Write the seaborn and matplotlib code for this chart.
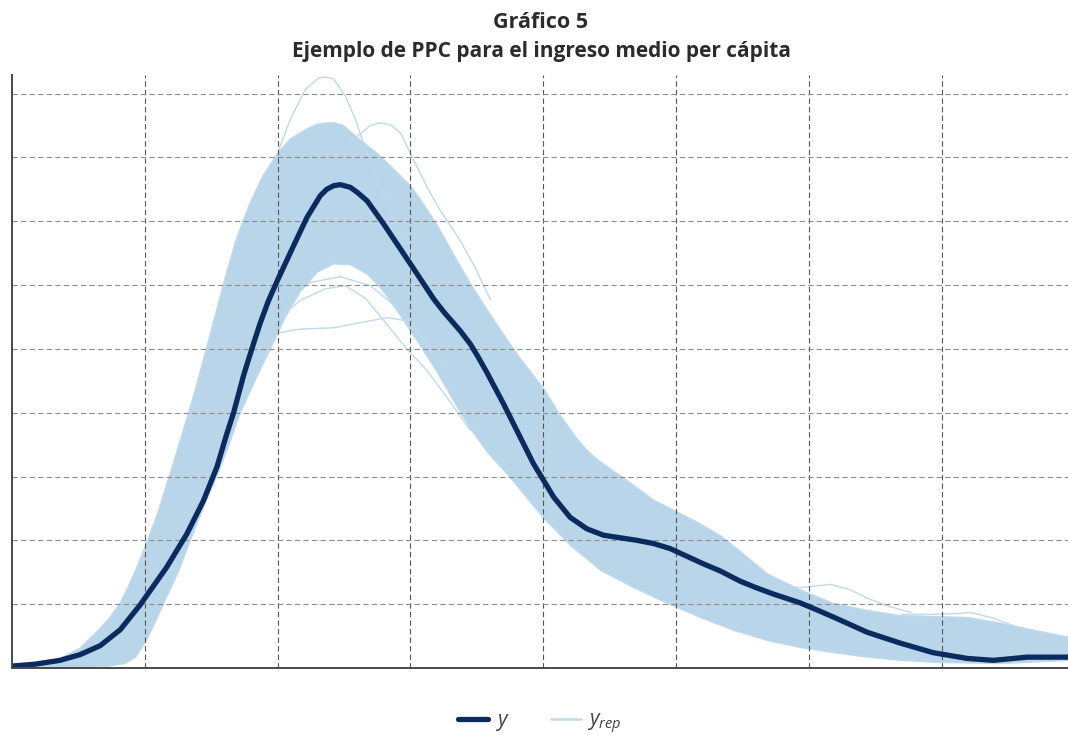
import matplotlib
matplotlib.use("Agg")
import matplotlib.pyplot as plt
import seaborn as sns
from matplotlib.lines import Line2D

# ---------------- data ----------------
title_1 = "Gráfico 5"
title_2 = "Ejemplo de PPC para el ingreso medio per cápita"
legend_labels = ["$y$", "$y_{rep}$"]

# observed density y
y_x = [0.0, 0.174, 0.362, 0.513, 0.664, 0.815, 0.965, 1.165, 1.316, 1.441,
       1.542, 1.617, 1.668, 1.743, 1.768, 1.818, 1.868, 1.930, 2.0, 2.121,
       2.221, 2.321, 2.370, 2.422, 2.472, 2.547, 2.600, 2.673, 2.798, 2.924,
       3.050, 3.175, 3.250, 3.300, 3.375, 3.449, 3.510, 3.575, 3.700, 3.826,
       3.926, 3.996, 4.077, 4.202, 4.328, 4.453, 4.579, 4.705, 4.830, 4.956,
       5.081, 5.207, 5.332, 5.482, 5.600, 5.730, 5.934, 6.060, 6.182, 6.438,
       6.687, 6.935, 7.191, 7.387, 7.643, 7.952]
y_vals = [0.03, 0.06, 0.12, 0.21, 0.35, 0.60, 0.99, 1.58, 2.10, 2.62,
          3.145, 3.668, 3.997, 4.58, 4.75, 5.08, 5.40, 5.75, 6.08, 6.62,
          7.06, 7.40, 7.50, 7.556, 7.572, 7.53, 7.45, 7.32, 6.956, 6.565,
          6.173, 5.78, 5.58, 5.46, 5.28, 5.08, 4.87, 4.63, 4.14, 3.615,
          3.20, 2.96, 2.68, 2.36, 2.18, 2.08, 2.04, 2.00, 1.95, 1.87,
          1.75, 1.63, 1.52, 1.36, 1.26, 1.16, 1.02, 0.91, 0.80, 0.56,
          0.39, 0.24, 0.15, 0.12, 0.17, 0.17]

# replicated densities y_rep: outer edges of the bundle
rep_up_x = [0.0, 0.212, 0.362, 0.513, 0.664, 0.740, 0.815, 0.870, 0.928, 1.003,
            1.093, 1.176, 1.266, 1.357, 1.440, 1.523, 1.606, 1.689, 1.795, 1.892,
            1.998, 2.096, 2.224, 2.300, 2.374, 2.430, 2.495, 2.623, 2.751, 2.872,
            3.000, 3.075, 3.203, 3.324, 3.452, 3.580, 3.731, 3.826, 3.998, 4.130,
            4.250, 4.334, 4.410, 4.484, 4.635, 4.831, 4.981, 5.163, 5.336, 5.487,
            5.690, 5.939, 6.188, 6.444, 6.693, 7.197, 7.446, 7.695, 7.958]
rep_up_y = [0.01, 0.06, 0.15, 0.31, 0.62, 0.80, 1.02, 1.25, 1.52, 1.90,
            2.40, 2.95, 3.56, 4.19, 4.82, 5.47, 6.12, 6.72, 7.30, 7.72,
            8.06, 8.29, 8.45, 8.52, 8.54, 8.54, 8.50, 8.27, 8.06, 7.82,
            7.55, 7.34, 6.93, 6.48, 6.02, 5.60, 5.13, 4.85, 4.39, 3.95,
            3.60, 3.40, 3.26, 3.15, 2.93, 2.63, 2.47, 2.28, 2.07, 1.82,
            1.47, 1.22, 1.01, 0.90, 0.82, 0.79, 0.70, 0.59, 0.48]

rep_lo_x = [0.0, 0.362, 0.664, 0.852, 0.930, 1.003, 1.070, 1.139, 1.251, 1.342,
            1.440, 1.546, 1.629, 1.719, 1.847, 1.968, 2.058, 2.171, 2.299, 2.420,
            2.547, 2.676, 2.797, 2.925, 3.075, 3.203, 3.324, 3.452, 3.580, 3.753,
            3.998, 4.205, 4.432, 4.680, 4.937, 5.185, 5.434, 5.690, 5.939, 6.188,
            6.444, 6.693, 6.941, 7.446, 7.958]
rep_lo_y = [0.0, 0.0, 0.01, 0.07, 0.17, 0.40, 0.68, 1.00, 1.50, 2.00,
            2.51, 3.02, 3.47, 4.00, 4.58, 5.10, 5.50, 5.90, 6.20, 6.33,
            6.32, 6.17, 5.90, 5.52, 5.05, 4.63, 4.19, 3.75, 3.38, 2.98,
            2.36, 1.92, 1.53, 1.26, 1.01, 0.79, 0.59, 0.43, 0.32, 0.24,
            0.17, 0.12, 0.09, 0.07, 0.12]

# individual replicated curves that stand out of the bundle
spike_x = [2.005, 2.096, 2.209, 2.308, 2.359, 2.420, 2.510, 2.585, 2.661, 2.774, 2.925]
spike_y = [8.10, 8.60, 9.07, 9.24, 9.26, 9.23, 8.96, 8.60, 8.13, 7.48, 6.77]

hump_x = [2.510, 2.623, 2.699, 2.774, 2.849, 2.925, 3.000, 3.128, 3.226, 3.376, 3.490, 3.603]
hump_y = [8.18, 8.37, 8.50, 8.54, 8.51, 8.38, 8.06, 7.52, 7.16, 6.69, 6.26, 5.76]

lowa_x = [1.892, 1.952, 1.998, 2.171, 2.420, 2.623, 2.827, 2.962, 3.075, 3.226]
lowa_y = [4.82, 5.10, 5.25, 5.31, 5.33, 5.41, 5.49, 5.44, 5.21, 4.74]

lowb_x = [1.998, 2.171, 2.359, 2.510, 2.661, 2.812, 2.962, 3.113, 3.264, 3.452]
lowb_y = [5.47, 5.76, 5.94, 5.99, 5.79, 5.41, 5.02, 4.69, 4.27, 3.72]

lowc_x = [1.998, 2.246, 2.472, 2.699, 2.925, 3.151]
lowc_y = [5.76, 6.04, 6.13, 5.99, 5.60, 5.05]

tail1_x = [5.690, 5.939, 6.165, 6.316, 6.444, 6.580, 6.768]
tail1_y = [1.29, 1.26, 1.31, 1.22, 1.09, 0.98, 0.87]

tail2_x = [6.693, 6.919, 7.092, 7.220, 7.371, 7.574, 7.747, 7.958]
tail2_y = [0.84, 0.84, 0.85, 0.87, 0.79, 0.64, 0.56, 0.48]

# ---------------- style ----------------
DARK = "#0b2b5e"
BAND = "#b9d5ea"
LIGHT = "#c0d9ec"

sns.set_theme(style="white")
plt.rcParams["font.family"] = ["Open Sans", "DejaVu Sans"]
plt.rcParams["mathtext.fontset"] = "custom"
plt.rcParams["mathtext.it"] = "Open Sans:italic"
plt.rcParams["mathtext.rm"] = "Open Sans"

fig = plt.figure(figsize=(10.68, 7.35), dpi=100)
fig.patch.set_facecolor("white")
ax = fig.add_axes([12 / 1068, 67 / 735, 1056 / 1068, 593 / 735])
ax.set_facecolor("white")

# bundle of replicated curves (area between the outer edges)
ax.fill(rep_up_x + rep_lo_x[::-1], rep_up_y + rep_lo_y[::-1],
        color=BAND, lw=0, zorder=1)
for xs, ys in [(rep_up_x, rep_up_y), (rep_lo_x, rep_lo_y),
               (spike_x, spike_y), (hump_x, hump_y), (lowa_x, lowa_y),
               (lowb_x, lowb_y), (lowc_x, lowc_y), (tail1_x, tail1_y),
               (tail2_x, tail2_y)]:
    sns.lineplot(x=xs, y=ys, ax=ax, color=LIGHT, lw=1.0, zorder=1.5,
                 estimator=None, sort=False, solid_joinstyle="round")

# observed curve
sns.lineplot(x=y_x, y=y_vals, ax=ax, color=DARK, lw=3.8, zorder=3,
             estimator=None, sort=False, solid_joinstyle="round",
             solid_capstyle="round")

ax.set_xlim(0, 7.95)
ax.set_ylim(0, 9.29)
ax.set_xticks(range(1, 8))
ax.set_yticks(range(1, 10))
ax.tick_params(length=0, labelbottom=False, labelleft=False)
ax.set_xlabel("")
ax.set_ylabel("")

ax.set_axisbelow(False)
ax.xaxis.grid(True, color="#555555", lw=0.8, ls=(0, (4.8, 2.9)))
ax.yaxis.grid(True, color="#8c8c8c", lw=0.8, ls=(0, (4.8, 2.9)))

for s in ["top", "right"]:
    ax.spines[s].set_visible(False)
for s in ["left", "bottom"]:
    ax.spines[s].set_color("#4a4a4a")
    ax.spines[s].set_linewidth(1.4)
    ax.spines[s].set_zorder(4)

# titles
fig.text(541 / 1068, 1 - 22 / 735, title_1, ha="center", va="center",
         fontsize=15.5, fontweight="bold", color="#2b2b2b")
fig.text(541 / 1068, 1 - 52 / 735, title_2, ha="center", va="center",
         fontsize=15, fontweight="bold", color="#2b2b2b")

# legend
handles = [Line2D([], [], color=DARK, lw=3.8),
           Line2D([], [], color=LIGHT, lw=1.8)]
fig.legend(handles, legend_labels, loc="center",
           bbox_to_anchor=(540 / 1068, 1 - 723 / 735), ncol=2, frameon=False,
           fontsize=15, handlelength=1.45, handletextpad=0.3,
           columnspacing=2.0, labelcolor="#444444")

fig.savefig("out.png", dpi=100, facecolor="white")
